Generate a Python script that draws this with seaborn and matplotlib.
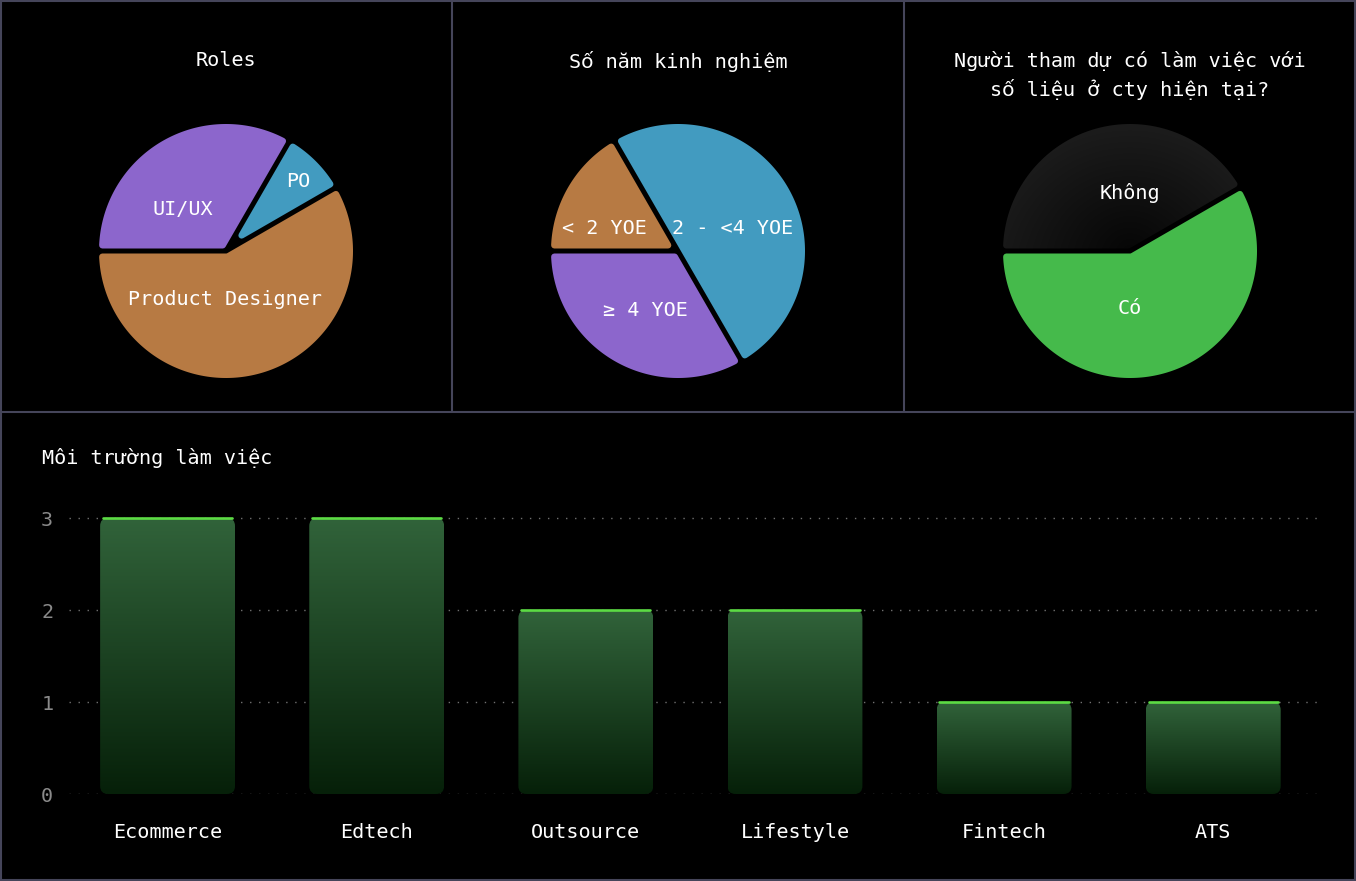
import numpy as np
import pandas as pd
import matplotlib
matplotlib.use("Agg")
import matplotlib.pyplot as plt
import seaborn as sns
from matplotlib.patches import FancyBboxPatch, Rectangle, Polygon
from matplotlib.lines import Line2D
from matplotlib.colors import LinearSegmentedColormap

# ---------------- data ----------------
roles_labels = ["UI/UX", "PO", "Product Designer"]
roles_values = [4, 1, 7]
yoe_labels = ["< 2 YOE", "2 - <4 YOE", "≥ 4 YOE"]
yoe_values = [2, 6, 4]
metric_labels = ["Không", "Có"]
metric_values = [5, 7]
env_labels = ["Ecommerce", "Edtech", "Outsource", "Lifestyle", "Fintech", "ATS"]
env_values = [3, 3, 2, 2, 1, 1]
ytick_values = [0, 1, 2, 3]

titles = ["Roles", "Số năm kinh nghiệm",
          "Người tham dự có làm việc với\nsố liệu ở cty hiện tại?"]
bar_title = "Môi trường làm việc"

# ---------------- style ----------------
sns.set_theme(style="dark")
FONT = ["DejaVu Sans Mono", "DejaVu Sans"]
plt.rcParams["font.family"] = FONT
plt.rcParams["figure.facecolor"] = "black"
plt.rcParams["axes.facecolor"] = "black"

PURPLE = "#8C66CC"
ORANGE = "#B77A43"
BLUE = "#429BC0"
GREEN = "#45BA4B"
BORDER = "#45455A"
FS = 14.5

W, H = 1356, 881
fig = plt.figure(figsize=(W / 100, H / 100), dpi=100)


def wedge_core(t1, t2, R, d, rho, n=240):
    """Eroded sector outline (sides by d, arc by rho)."""
    a1, a2 = np.radians(t1), np.radians(t2)
    s = a2 - a1
    Ra = R - rho
    tt = np.sqrt(Ra ** 2 - d ** 2)
    b1 = a1 + np.arctan2(d, tt)
    b2 = a2 - np.arctan2(d, tt)
    arc = np.linspace(b1, b2, n)
    arcpts = np.c_[Ra * np.cos(arc), Ra * np.sin(arc)]
    if s < np.pi - 1e-9:
        am = a1 + s / 2
        apex = (d / np.sin(s / 2)) * np.array([np.cos(am), np.sin(am)])
        return np.vstack([apex, arcpts])
    ang = np.linspace(a2 - np.pi / 2, a1 + np.pi / 2, 40)
    apexarc = np.c_[d * np.cos(ang), d * np.sin(ang)]
    return np.vstack([arcpts, apexarc])


def dilate_convex(pts, rho, n=1440):
    phis = np.linspace(0, 2 * np.pi, n, endpoint=False)
    dirs = np.c_[np.cos(phis), np.sin(phis)]
    idx = np.argmax(pts @ dirs.T, axis=0)
    return pts[idx] + rho * dirs


# ---------------- pies ----------------
PX = 127.0           # pixels per pie data unit (outer radius = 1)
HALF = 1.1 * PX
pie_cy = 251
GAP_PX, RHO_PX = 5.0, 3.2
d_side = (GAP_PX / 2 + RHO_PX) / PX
rho = RHO_PX / PX
stroke_pt = 2 * RHO_PX * 0.72

pie_specs = [
    (226, roles_values, roles_labels, [PURPLE, BLUE, ORANGE],
     [(-0.34, 0.33), (0.57, 0.55), (-0.01, -0.38)]),
    (678, yoe_values, yoe_labels, [ORANGE, BLUE, PURPLE],
     [(-0.58, 0.18), (0.43, 0.18), (-0.26, -0.47)]),
    (1130, metric_values, metric_labels, ["#111111", GREEN],
     [(0.0, 0.46), (0.0, -0.45)]),
]

for i, (cx, vals, labs, cols, lpos) in enumerate(pie_specs):
    ax = fig.add_axes([(cx - HALF) / W, (H - pie_cy - HALF) / H,
                       2 * HALF / W, 2 * HALF / H])
    ax.set_facecolor("black")
    wedges, _ = ax.pie(vals, colors=cols, startangle=180, counterclock=False,
                       radius=1.0)
    for k, w in enumerate(wedges):
        w.set_visible(False)
        core = wedge_core(w.theta1, w.theta2, w.r, d_side, rho)
        if i == 2 and k == 0:
            outline = dilate_convex(core, rho)
            clip = Polygon(outline, closed=True, fc="none", ec="none",
                           transform=ax.transData)
            ax.add_patch(clip)
            yy, xx = np.mgrid[-1:1:300j, -1:1:300j]
            rr = np.sqrt(xx ** 2 + yy ** 2)
            val = np.clip(rr * 0.7 + (yy + 1) * 0.15, 0, 1)
            cmap = LinearSegmentedColormap.from_list("dk", ["#060606", "#1c1c1c"])
            ax.imshow(val, extent=(-1, 1, -1, 1), origin="lower", cmap=cmap,
                      zorder=2, aspect="auto", clip_path=clip)
        else:
            poly = Polygon(core, closed=True, fc=w.get_facecolor(),
                           ec=w.get_facecolor(), lw=stroke_pt, zorder=2)
            poly.set_joinstyle("round")
            ax.add_patch(poly)
    for lab, (lx, ly) in zip(labs, lpos):
        ax.text(lx, ly, lab, ha="center", va="center", color="white",
                fontsize=FS, family=FONT, zorder=6)
    ax.set_xlim(-1.1, 1.1)
    ax.set_ylim(-1.1, 1.1)
    ax.set_aspect("equal")
    ax.axis("off")
    fig.text(cx / W, 1 - (75.5 if i == 2 else 61) / H, titles[i],
             ha="center", va="center", color="white", fontsize=FS,
             family=FONT, linespacing=1.45)

# ---------------- bar chart ----------------
ax_left, ax_right = 63, 1322
y0_px = 794
px_y = 92.0
ytop = 3.05
ax_b = fig.add_axes([ax_left / W, (H - y0_px) / H, (ax_right - ax_left) / W,
                     ytop * px_y / H])
ax_b.set_facecolor("black")
df = pd.DataFrame({"env": env_labels, "count": env_values})
sns.barplot(data=df, x="env", y="count", ax=ax_b, width=0.645,
            color="#1d4a23", saturation=1)
xlim = (-0.5, 5.52)
ax_b.set_xlim(*xlim)
ax_b.set_ylim(0, ytop)

px_x = (ax_right - ax_left) / (xlim[1] - xlim[0])
r_px = 8
rx = r_px / px_x
ma = (r_px / px_y) / rx
bar_cmap = LinearSegmentedColormap.from_list("gr", ["#062009", "#31633a"])
grad = np.linspace(0, 1, 256).reshape(-1, 1)

for p in list(ax_b.patches):
    x0, w, h = p.get_x(), p.get_width(), p.get_height()
    p.set_visible(False)
    fancy = FancyBboxPatch((x0, 0), w, h,
                           boxstyle=f"round,pad=0,rounding_size={rx}",
                           mutation_aspect=ma, fc="none", ec="none",
                           transform=ax_b.transData)
    ax_b.add_patch(fancy)
    ax_b.imshow(grad, extent=(x0, x0 + w, 0, h), origin="lower",
                cmap=bar_cmap, aspect="auto", zorder=2, clip_path=fancy)
    ax_b.plot([x0 + rx * 0.35, x0 + w - rx * 0.35], [h, h], color="#5CDB44",
              lw=1.9, solid_capstyle="round", zorder=3, clip_on=False)

ax_b.set_xlim(*xlim)
ax_b.set_ylim(0, ytop)
ax_b.grid(False)
for v in ytick_values:
    ax_b.axhline(v, xmin=0.005, xmax=1, color="#707070", lw=1.0,
                 linestyle=(0, (1, 5.5)), zorder=1)
ax_b.set_yticks(ytick_values)
ax_b.set_yticklabels([str(v) for v in ytick_values])
for s in ax_b.spines.values():
    s.set_visible(False)
ax_b.tick_params(axis="y", length=0, pad=7, labelsize=FS, labelcolor="#8a8a8a")
ax_b.tick_params(axis="x", length=0, pad=21, labelsize=FS, labelcolor="white")
for t in ax_b.get_xticklabels() + ax_b.get_yticklabels():
    t.set_family(FONT)
ax_b.set_xlabel("")
ax_b.set_ylabel("")

fig.text(42 / W, 1 - 458 / H, bar_title, ha="left", va="center",
         color="white", fontsize=FS, family=FONT)

# ---------------- panel borders ----------------
lw_b = 1.5
for xp in (452, 904):
    fig.add_artist(Line2D([xp / W, xp / W], [1, 1 - 412 / H],
                          transform=fig.transFigure, color=BORDER, lw=lw_b))
fig.add_artist(Line2D([0, 1], [1 - 412 / H, 1 - 412 / H],
                      transform=fig.transFigure, color=BORDER, lw=lw_b))
fig.add_artist(Rectangle((0.7 / W, 0.7 / H), 1 - 1.4 / W, 1 - 1.4 / H,
                         transform=fig.transFigure, fill=False,
                         ec=BORDER, lw=lw_b))

fig.savefig("out.png", dpi=100, facecolor="black")
